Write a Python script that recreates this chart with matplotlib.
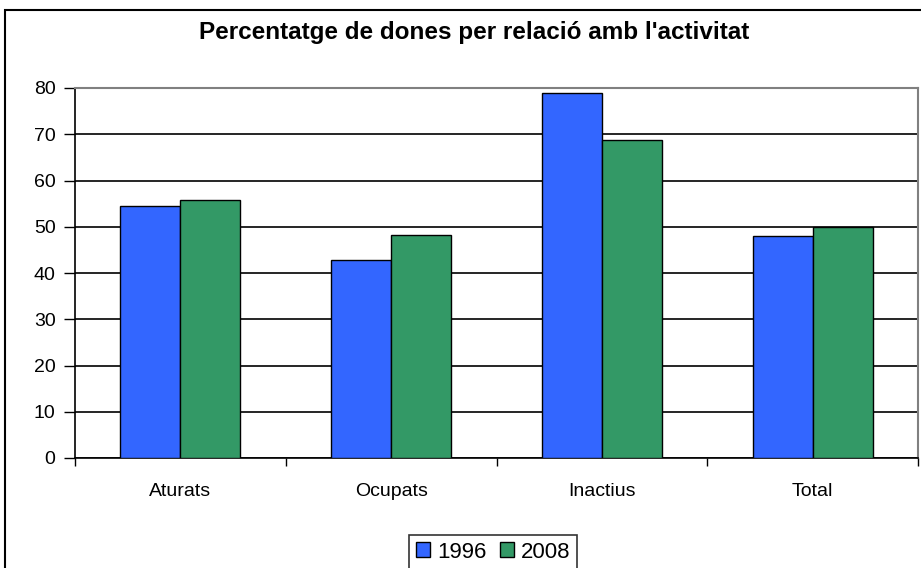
import numpy as np
import matplotlib.pyplot as plt
from matplotlib.patches import Rectangle

categories = ['Aturats', 'Ocupats', 'Inactius', 'Total']
years = ['1996', '2008']
vals_1996 = [54.5, 42.8, 78.9, 48.0]
vals_2008 = [55.7, 48.2, 68.8, 49.9]

plt.rcParams['font.family'] = ['Liberation Sans', 'DejaVu Sans']

fig = plt.figure(figsize=(9.21, 5.68), dpi=100)
ax = fig.add_axes([75 / 921, 110 / 568, 843 / 921, 370 / 568])

x = np.arange(len(categories))
w = 0.285
ax.bar(x - w / 2, vals_1996, w, color='#3366FF', edgecolor='black', linewidth=1, label=years[0], zorder=3)
ax.bar(x + w / 2, vals_2008, w, color='#339966', edgecolor='black', linewidth=1, label=years[1], zorder=3)

ax.set_xlim(-0.5, len(categories) - 0.5)
ax.set_ylim(0, 80)
ax.set_yticks(range(0, 81, 10))
ax.yaxis.grid(True, color='black', linewidth=1.2, zorder=0)
ax.set_xticks(x)
ax.set_xticklabels(categories, fontsize=14)
ax.set_xticks(np.arange(-0.5, len(categories), 1), minor=True)
ax.tick_params(axis='x', which='major', length=0, pad=18)
ax.tick_params(axis='x', which='minor', length=6, width=1, direction='out')
ax.tick_params(axis='y', labelsize=14, length=8, width=1, direction='out', pad=6)

for side in ['top', 'right']:
    ax.spines[side].set_color('#808080')
    ax.spines[side].set_linewidth(1.5)
for side in ['left', 'bottom']:
    ax.spines[side].set_color('black')
    ax.spines[side].set_linewidth(1.2)

fig.text(474 / 921, 1 - 33 / 568, "Percentatge de dones per relació amb l'activitat",
         ha='center', va='center', fontsize=17.5, fontweight='bold')

leg = fig.legend(loc='center', bbox_to_anchor=(493 / 921, 1 - 552 / 568), ncol=2,
                 fontsize=16, frameon=True, fancybox=False, handlelength=0.65, handleheight=0.65,
                 handletextpad=0.3, columnspacing=0.6, borderpad=0.3, borderaxespad=0)
leg.get_frame().set_edgecolor('black')
leg.get_frame().set_linewidth(1.2)

fig.patches.append(Rectangle((5 / 921, -0.05), 1.0, 1 - 10 / 568 + 0.05, transform=fig.transFigure,
                             fill=False, edgecolor='black', linewidth=1.5))

fig.savefig('out.png', dpi=100)
